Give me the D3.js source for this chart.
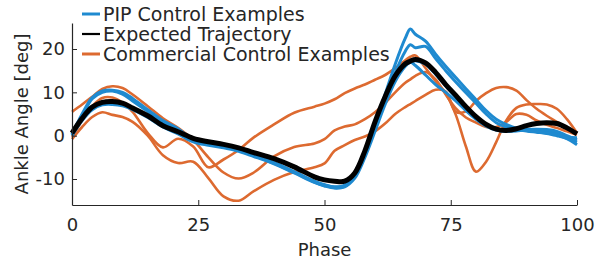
<!DOCTYPE html>
<html>
<head>
<meta charset="utf-8">
<script src="https://cdn.jsdelivr.net/npm/d3@7"></script>
<style>
  body { margin: 0; background: #fff; }
  text { font-family: "DejaVu Sans", sans-serif; fill: #262626; }
  .axis path, .axis line { stroke: #262626; }
</style>
</head>
<body>
<div id="chart"></div>
<script>

// phase values shared by every curve
var phase = [0,2,4,6,8,10,12,15,18,21,24,27,30,33,36,40,44,48,50,52,54,56,58,60,62,64,66,67,68,70,72,74,76,78,80,82,84,86,88,90,92,94,96,98,100];

var expected = [0.6,4.0,6.6,7.7,7.9,7.5,6.4,4.6,2.3,0.9,-0.6,-1.4,-2.0,-2.8,-3.9,-5.3,-7.2,-9.5,-10.2,-10.5,-10.5,-8.6,-3.5,3.2,9.0,13.8,16.6,17.2,17.6,16.8,14.6,11.8,9.3,6.7,4.4,2.6,1.5,1.2,1.6,2.3,2.8,3.0,2.8,1.8,0.4];

var pip1 = [0.3,5.0,8.8,10.3,10.5,10.0,8.6,6.0,3.5,1.6,-0.9,-1.8,-2.4,-3.2,-4.4,-6.2,-8.3,-10.5,-11.3,-11.8,-11.4,-8.5,-3.5,2.5,9.5,16.5,22.5,24.6,23.4,21.8,18.8,16.0,13.4,10.8,8.3,5.8,3.8,2.6,1.7,1.2,0.9,0.6,0.2,-0.7,-2.1];
var pip2 = [0.8,4.5,8.5,10.0,10.3,9.6,8.0,5.6,3.0,1.2,-1.1,-2.0,-2.6,-3.3,-4.6,-6.4,-8.5,-10.7,-11.5,-12.0,-11.7,-9.2,-4.5,1.5,8.0,14.5,19.5,21.0,20.3,20.6,17.8,15.0,12.4,9.9,7.5,5.0,3.0,2.0,1.5,1.1,0.8,0.5,0.0,-0.6,-1.5];
var pip3 = [0.2,3.8,6.3,7.3,7.5,7.2,6.3,4.5,2.2,0.6,-1.2,-2.0,-2.6,-3.4,-4.6,-6.3,-8.4,-10.6,-11.4,-11.9,-11.6,-9.4,-4.6,1.8,8.0,13.0,16.6,17.0,16.2,14.0,11.8,10.0,8.0,5.8,3.8,2.2,1.3,1.0,1.2,1.4,1.5,1.4,1.0,0.0,-1.0];
var pip4 = [0.0,3.5,6.0,7.1,7.2,6.9,6.0,4.2,2.0,0.4,-1.4,-2.2,-2.8,-3.6,-4.8,-6.5,-8.6,-10.8,-11.6,-12.1,-11.8,-9.8,-5.0,1.0,7.2,12.5,16.0,17.0,17.3,16.5,14.2,11.5,8.8,6.2,4.0,2.4,1.4,1.0,1.1,1.3,1.2,1.0,0.5,-0.3,-0.5];

var comm1 = [5.5,7.2,9.0,10.8,11.4,11.0,9.5,6.8,4.0,1.8,-1.0,-5.0,-8.5,-9.9,-8.5,-4.8,-2.6,-1.8,-0.8,1.2,2.1,2.6,3.8,5.4,7.5,10.0,12.2,13.0,13.8,14.7,13.0,9.5,6.3,4.2,3.0,2.0,2.0,3.2,5.0,4.8,3.5,2.5,1.8,1.0,0.2];
var comm2 = [-0.3,3.5,6.8,8.7,8.8,7.6,5.5,0.6,-2.7,-0.7,-2.5,-7.3,-5.5,-3.3,-0.4,2.6,5.3,6.7,7.4,8.4,9.8,10.9,11.8,12.9,14.0,15.6,17.4,18.2,18.5,15.6,12.6,9.8,4.8,-2.5,-8.3,-6.0,-1.5,3.5,6.4,7.2,7.3,7.2,6.2,3.8,0.6];
var comm3 = [-0.8,2.0,4.3,5.4,4.8,4.3,3.2,0.0,-4.5,-6.3,-6.0,-9.8,-14.0,-15.0,-12.8,-10.2,-8.4,-7.3,-6.4,-3.5,-2.2,-1.0,-0.2,1.0,2.8,5.0,6.6,7.3,8.0,9.4,10.6,10.2,5.5,5.6,8.0,9.8,11.0,11.2,10.4,8.2,6.2,4.6,3.2,1.8,0.6];

var xTicks = [0,25,50,75,100];
var yTicks = [-10,0,10,20];

var legendLabels = ["PIP Control Examples","Expected Trajectory","Commercial Control Examples"];

var blue = "#1f8ad0", orange = "#dd6a30", black = "#000000";

var margin = {top: 23, right: 28, bottom: 60, left: 72},
    width  = 505,
    height = 182;

var x = d3.scaleLinear().domain([0,100]).range([0, width]);
var y = d3.scaleLinear().domain([-16,26]).range([height, 0]);

var svg = d3.select('#chart')
  .append('svg')
  .attr('width', 605)
  .attr('height', 265);

var main = svg.append('g')
  .attr('transform', 'translate(' + margin.left + ',' + margin.top + ')');

var line = d3.line()
  .x(function(d, i) { return x(phase[i]); })
  .y(function(d) { return y(d); })
  .curve(d3.curveCatmullRom.alpha(0.5));

// commercial first, then pip, expected on top
var commercial = [comm1, comm2, comm3];
commercial.forEach(function(s) {
  main.append('path').datum(s)
    .attr('d', line)
    .attr('fill', 'none')
    .attr('stroke', orange)
    .attr('stroke-width', 2.6)
    .attr('stroke-linejoin', 'round');
});

var pip = [pip4, pip3, pip2, pip1];
pip.forEach(function(s) {
  main.append('path').datum(s)
    .attr('d', line)
    .attr('fill', 'none')
    .attr('stroke', blue)
    .attr('stroke-width', 3)
    .attr('stroke-linejoin', 'round');
});

main.append('path').datum(expected)
  .attr('d', line)
  .attr('fill', 'none')
  .attr('stroke', black)
  .attr('stroke-width', 5)
  .attr('stroke-linejoin', 'round');

// plain hyphen minus like the original, not d3's unicode minus
var plain = function(d) { return String(d); };

// axes (ticks point inward like matlab)
main.append('g')
  .attr('class', 'axis')
  .attr('transform', 'translate(0,' + height + ')')
  .call(d3.axisBottom(x).tickValues(xTicks).tickFormat(plain).tickSize(-5).tickSizeOuter(0).tickPadding(13))
  .selectAll('text').style('font-size', '18px');

main.append('g')
  .attr('class', 'axis')
  .call(d3.axisLeft(y).tickValues(yTicks).tickFormat(plain).tickSize(-5).tickSizeOuter(0).tickPadding(7))
  .selectAll('text').style('font-size', '18px');

main.selectAll('.axis path').attr('stroke-width', 1.2);

// axis titles
svg.append('text')
  .attr('text-anchor', 'middle')
  .attr('x', margin.left + width / 2)
  .attr('y', 256)
  .style('font-size', '18px')
  .text('Phase');

svg.append('text')
  .attr('text-anchor', 'middle')
  .attr('transform', 'translate(28,' + 114 + ')rotate(-90)')
  .style('font-size', '18px')
  .text('Ankle Angle [deg]');

// legend
var legend = svg.append('g').attr('transform', 'translate(82,14)');
var legendColors = [blue, black, orange];
var legendWidths = [3, 2.2, 3];

legendLabels.forEach(function(l, i) {
  legend.append('line')
    .attr('x1', 0).attr('x2', 18)
    .attr('y1', i * 20).attr('y2', i * 20)
    .attr('stroke', legendColors[i])
    .attr('stroke-width', legendWidths[i]);
  legend.append('text')
    .attr('x', 21)
    .attr('y', i * 20)
    .attr('dy', '0.36em')
    .style('font-size', '19px')
    .text(l);
});

</script>
</body>
</html>
